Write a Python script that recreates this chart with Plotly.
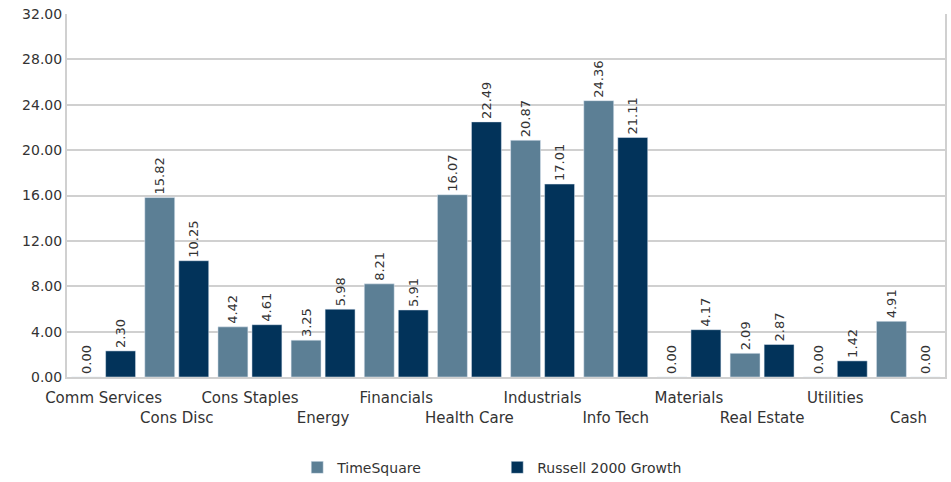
import plotly.graph_objects as go

categories = ["Comm Services", "Cons Disc", "Cons Staples", "Energy", "Financials",
              "Health Care", "Industrials", "Info Tech", "Materials", "Real Estate",
              "Utilities", "Cash"]
timesquare = [0.00, 15.82, 4.42, 3.25, 8.21, 16.07, 20.87, 24.36, 0.00, 2.09, 0.00, 4.91]
russell = [2.30, 10.25, 4.61, 5.98, 5.91, 22.49, 17.01, 21.11, 4.17, 2.87, 1.42, 0.00]
y_ticks = [0, 4, 8, 12, 16, 20, 24, 28, 32]

tick_text = [c if i % 2 == 0 else "<br>" + c for i, c in enumerate(categories)]
FONT = "DejaVu Sans"

fig = go.Figure()
fig.add_trace(go.Bar(
    x=categories, y=timesquare, name="TimeSquare",
    marker_color="#5c7f95",
    text=[f"{v:.2f}" for v in timesquare], textposition="outside",
    textangle=-90, textfont=dict(size=13, color="#333333", family=FONT),
    cliponaxis=False,
))
fig.add_trace(go.Bar(
    x=categories, y=russell, name="Russell 2000 Growth",
    marker_color="#02335a",
    text=[f"{v:.2f}" for v in russell], textposition="outside",
    textangle=-90, textfont=dict(size=13, color="#333333", family=FONT),
    cliponaxis=False,
))

fig.update_layout(
    width=951, height=482,
    margin=dict(l=67, r=6, t=14, b=105, autoexpand=False),
    paper_bgcolor="white", plot_bgcolor="white",
    barmode="group", bargap=0.07, bargroupgap=0.12,
    font=dict(family=FONT, size=14, color="#333333"),
    showlegend=True,
    legend=dict(orientation="h", x=0.49, xanchor="center", y=-0.25, yanchor="middle",
                font=dict(size=14, color="#333333", family=FONT),
                itemwidth=30, traceorder="normal", entrywidth=155),
    uniformtext=dict(mode="show", minsize=13),
)
fig.update_xaxes(
    tickmode="array", tickvals=categories, ticktext=tick_text, tickangle=0,
    automargin=False, ticklabelstandoff=6,
    showline=True, linecolor="#d0d0d0", linewidth=2,
    ticks="", showgrid=False, tickfont=dict(size=15, color="#333333"),
)
fig.update_yaxes(
    range=[0, 32], tickvals=y_ticks, ticktext=[f"{v:.2f}" for v in y_ticks],
    automargin=False,
    showgrid=True, gridcolor="#d0d0d0", gridwidth=2,
    showline=True, linecolor="#d0d0d0", linewidth=2, mirror=True,
    zeroline=False, ticks="", tickfont=dict(size=14, color="#333333"),
)

fig.write_html("out.html", config={"displayModeBar": False},
               post_script="document.body.style.margin='0';")
